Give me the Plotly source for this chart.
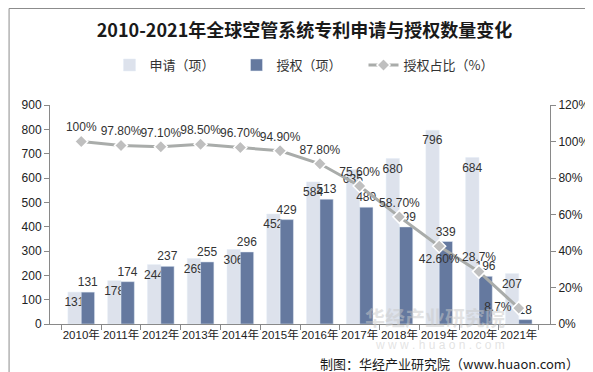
import plotly.graph_objects as go

years = ["2010年", "2011年", "2012年", "2013年", "2014年", "2015年",
         "2016年", "2017年", "2018年", "2019年", "2020年", "2021年"]
applications = [131, 178, 244, 269, 306, 452, 584, 635, 680, 796, 684, 207]
grants = [131, 174, 237, 255, 296, 429, 513, 480, 399, 339, 196, 18]
grant_ratio = [100, 97.8, 97.1, 98.5, 96.7, 94.9, 87.8, 75.6, 58.7, 42.6, 28.7, 8.7]
ratio_labels = ["100%", "97.80%", "97.10%", "98.50%", "96.70%", "94.90%",
                "87.80%", "75.60%", "58.70%", "42.60%", "28.7%", "8.7%"]
ratio_label_pos = ["top center"] * 9 + ["bottom center", "top center", "middle left"]

FONT = "Liberation Sans, Arial, Noto Sans CJK SC, sans-serif"
TXT = "#333333"

W, H = 593, 372
ML, MR, MT, MB = 42, 44, 97, 56
PW, PH = W - ML - MR, H - MT - MB

fig = go.Figure()
fig.add_trace(go.Bar(
    x=years, y=applications, name="申请（项）",
    marker=dict(color="#DDE2EC"),
    text=[str(v) for v in applications], textposition="inside",
    insidetextanchor="end", constraintext="none", textangle=0,
    insidetextfont=dict(color=TXT, size=12, family=FONT),
    cliponaxis=False,
))
fig.add_trace(go.Bar(
    x=years, y=grants, name="授权（项）",
    marker=dict(color="#65799F"),
    text=[str(v) for v in grants], textposition="outside",
    constraintext="none", textangle=0,
    outsidetextfont=dict(color=TXT, size=12, family=FONT),
    cliponaxis=False,
))
fig.add_trace(go.Scatter(
    x=years, y=[v / 100 for v in grant_ratio], name="授权占比（%）",
    yaxis="y2", mode="lines+markers+text",
    line=dict(color="#A9ACAA", width=3),
    marker=dict(symbol="diamond", size=10, color="#BFBFBF",
                line=dict(color="white", width=1.5)),
    text=ratio_labels, textposition=ratio_label_pos,
    textfont=dict(color=TXT, size=12, family=FONT),
    cliponaxis=False,
))

fig.update_layout(
    width=W, height=H,
    margin=dict(l=ML, r=MR, t=MT, b=MB),
    paper_bgcolor="white", plot_bgcolor="white",
    font=dict(family=FONT, size=12, color=TXT),
    barmode="group", bargap=0.33, bargroupgap=0,
    title=dict(text="<b>2010-2021年全球空管系统专利申请与授权数量变化</b>",
               x=0.5, xanchor="center", y=1 - 23 / H, yanchor="middle",
               font=dict(family="Noto Sans CJK SC, sans-serif", size=18, color="#1a1a1a")),
    legend=dict(orientation="h", x=0.5, xanchor="center",
                y=(H - MB - 57) / PH, yanchor="middle",
                entrywidth=82, entrywidthmode="pixels",
                font=dict(size=13, color=TXT, family="Noto Sans CJK SC, sans-serif"),
                bgcolor="rgba(0,0,0,0)"),
    showlegend=True,
    xaxis=dict(type="category", showgrid=False, showline=True, linecolor="#898989",
               ticks="outside", tickson="boundaries", ticklen=5, tickcolor="#898989",
               tickangle=0,
               tickfont=dict(size=11.5, color="#222222")),
    yaxis=dict(range=[0, 900], dtick=100, showgrid=False, showline=True,
               linecolor="#898989", ticks="outside", ticklen=5, tickcolor="#898989",
               tickfont=dict(size=12, color="#222222"), zeroline=False),
    yaxis2=dict(range=[0, 1.2], dtick=0.2, tickformat=".0%", overlaying="y",
                side="right", showgrid=False, showline=True, linecolor="#898989",
                ticks="outside", ticklen=5, tickcolor="#898989",
                tickfont=dict(size=12, color="#222222"), zeroline=False),
)

def px_x(p):
    return (p - ML) / PW

def px_y(p):
    return (H - MB - p) / PH

# watermark
fig.add_annotation(text="<b>华经产业研究院</b>", xref="paper", yref="paper",
                   x=px_x(505), y=px_y(326), showarrow=False,
                   font=dict(size=20, color="rgba(200,200,200,0.5)",
                             family="Noto Sans CJK SC, sans-serif"))
fig.add_annotation(text="w w w . h u a o n . c o m", xref="paper", yref="paper",
                   x=px_x(505), y=px_y(346), showarrow=False,
                   font=dict(size=12, color="rgba(200,200,200,0.5)", family=FONT))
# source
fig.add_annotation(text="制图：华经产业研究院（www.huaon.com）", xref="paper", yref="paper",
                   x=px_x(580), y=px_y(355), xanchor="right", yanchor="middle",
                   showarrow=False,
                   font=dict(size=13, color="#1a1a1a", family="Noto Sans CJK SC, sans-serif"))
# outer border
fig.add_shape(type="rect", xref="paper", yref="paper",
              x0=px_x(0.5), x1=px_x(W - 0.5), y0=px_y(H - 0.5), y1=px_y(0.5),
              line=dict(color="#8c8c8c", width=1), fillcolor="rgba(0,0,0,0)", layer="below")

fig.write_html("out.html")
